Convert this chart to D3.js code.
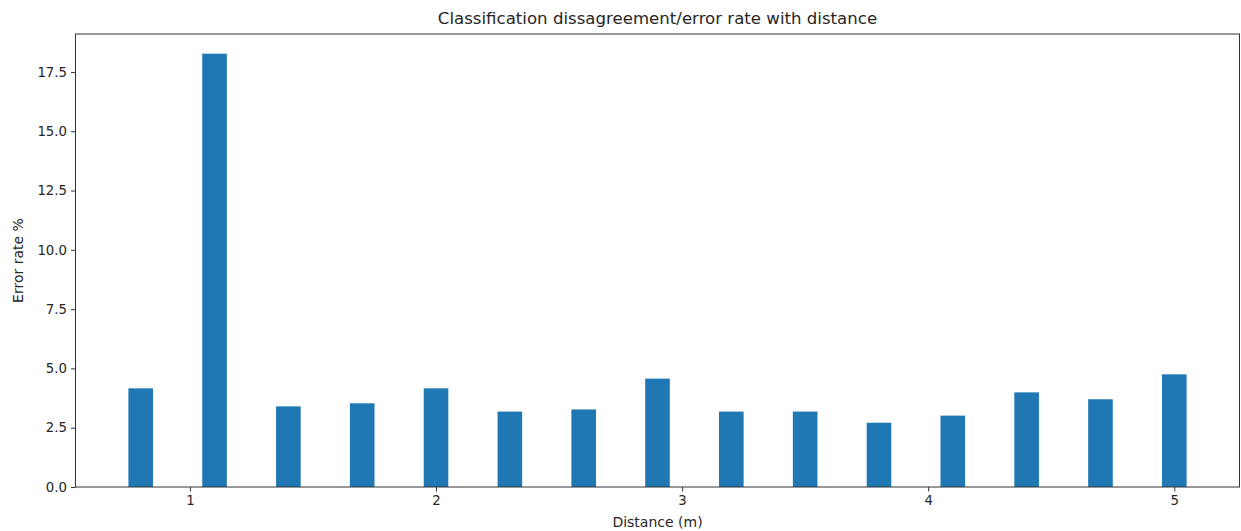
<!DOCTYPE html>
<html>
<head>
<meta charset="utf-8">
<script src="https://cdn.jsdelivr.net/npm/d3@7"></script>
<style>
body { margin: 0; background: #fff; }
svg text { font-family: "DejaVu Sans", sans-serif; fill: #262626; }
</style>
</head>
<body>
<div id="chart"></div>
<script>
// distances (m) and error rates
let distances = [0.8, 1.1, 1.4, 1.7, 2.0, 2.3, 2.6, 2.9, 3.2, 3.5, 3.8, 4.1, 4.4, 4.7, 5.0];
let errorRates = [4.16, 18.27, 3.40, 3.53, 4.16, 3.18, 3.27, 4.57, 3.18, 3.18, 2.71, 3.01, 3.99, 3.70, 4.75];
let xTicks = [1, 2, 3, 4, 5];
let yTicks = [0, 2.5, 5, 7.5, 10, 12.5, 15, 17.5];
let barWidth = 0.1;

let width = 1241, height = 531;
let margin = {left: 75.5, right: 1.5, top: 34, bottom: 44};

let svg = d3.select("#chart").append("svg")
  .attr("width", width)
  .attr("height", height);

let x = d3.scaleLinear()
  .domain([0.535, 5.265])
  .range([margin.left, width - margin.right]);

let y = d3.scaleLinear()
  .domain([0, 19.1])
  .range([height - margin.bottom, margin.top]);

let bars = distances.map((d, i) => ({dist: d, rate: errorRates[i]}));

svg.append("g")
  .selectAll("rect")
  .data(bars)
  .enter()
  .append("rect")
  .attr("x", d => x(d.dist - barWidth / 2))
  .attr("width", d => x(d.dist + barWidth / 2) - x(d.dist - barWidth / 2))
  .attr("y", d => y(d.rate))
  .attr("height", d => y(0) - y(d.rate))
  .attr("fill", "#1f77b4");

let xAxis = svg.append("g")
  .attr("transform", "translate(0," + (height - margin.bottom) + ")")
  .call(d3.axisBottom(x).tickValues(xTicks).tickFormat(d3.format("d")).tickSize(4.5).tickPadding(4));

let yAxis = svg.append("g")
  .attr("transform", "translate(" + margin.left + ",0)")
  .call(d3.axisLeft(y).tickValues(yTicks).tickFormat(d3.format(".1f")).tickSize(4.5).tickPadding(4));

[xAxis, yAxis].forEach(g => {
  g.select(".domain").remove();
  g.selectAll(".tick line").attr("stroke", "#333");
  g.selectAll(".tick text").attr("font-size", "13.3px").attr("fill", "#262626");
});

// axes frame
svg.append("rect")
  .attr("x", margin.left)
  .attr("y", margin.top)
  .attr("width", width - margin.left - margin.right)
  .attr("height", height - margin.top - margin.bottom)
  .attr("fill", "none")
  .attr("stroke", "#333")
  .attr("stroke-width", 1);

svg.append("text")
  .attr("x", (margin.left + width - margin.right) / 2)
  .attr("y", 24)
  .attr("text-anchor", "middle")
  .attr("font-size", "16.6px")
  .text("Classification dissagreement/error rate with distance");

svg.append("text")
  .attr("x", (margin.left + width - margin.right) / 2)
  .attr("y", 527)
  .attr("text-anchor", "middle")
  .attr("font-size", "14px")
  .text("Distance (m)");

svg.append("text")
  .attr("transform", "translate(23," + (margin.top + height - margin.bottom) / 2 + ") rotate(-90)")
  .attr("text-anchor", "middle")
  .attr("font-size", "14px")
  .text("Error rate %");
</script>
</body>
</html>
